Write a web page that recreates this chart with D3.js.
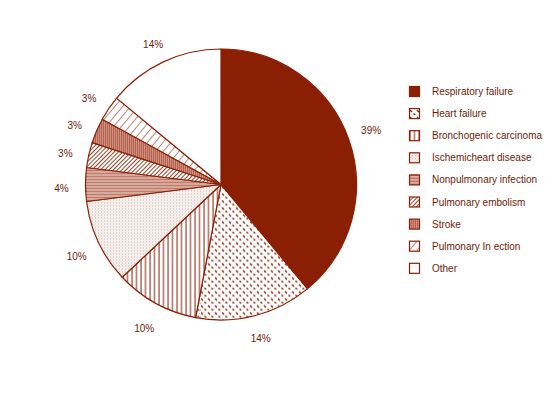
<!DOCTYPE html>
<meta charset="utf-8">
<script src="https://d3js.org/d3.v7.min.js"></script>
<style>
  body { margin: 0; background: #fff; }
  text { font-family: "Liberation Sans", Arial, sans-serif; fill: #6e1a08; }
</style>
<svg id="chart" width="555" height="396"></svg>
<script>
    // Causes of death, share in percent (clockwise from top)
    var categories = ["Respiratory failure", "Heart failure", "Bronchogenic carcinoma",
        "Ischemicheart disease", "Nonpulmonary infection", "Pulmonary embolism",
        "Stroke", "Pulmonary In ection", "Other"];
    var values = [39, 14, 10, 10, 4, 3, 3, 3, 14];
    var labels = ["39%", "14%", "10%", "10%", "4%", "3%", "3%", "3%", "14%"];
    var patterns = ["solid", "dash", "vline", "stipple", "hline", "diag", "dots", "diag2", "none"];

    var red = "#8b1f04";
    var svg = d3.select("#chart");
    var cx = 221, cy = 184.5, radius = 135.5;

    // patterns used for the slice fills
    var defs = svg.append("defs");

    var p = defs.append("pattern").attr("id", "dash").attr("patternUnits", "userSpaceOnUse")
        .attr("width", 7).attr("height", 7);
    p.append("rect").attr("width", 7).attr("height", 7).attr("fill", "#fff");
    p.append("line").attr("x1", 1).attr("y1", 2).attr("x2", 3).attr("y2", 4)
        .attr("stroke", red).attr("stroke-width", 1.4);
    p.append("line").attr("x1", 4.5).attr("y1", 5.5).attr("x2", 6.5).attr("y2", 7.5)
        .attr("stroke", red).attr("stroke-width", 1.4);

    p = defs.append("pattern").attr("id", "vline").attr("patternUnits", "userSpaceOnUse")
        .attr("width", 4.5).attr("height", 4);
    p.append("rect").attr("width", 4.5).attr("height", 4).attr("fill", "#fff");
    p.append("line").attr("x1", 1).attr("y1", 0).attr("x2", 1).attr("y2", 4)
        .attr("stroke", red).attr("stroke-width", 1);

    p = defs.append("pattern").attr("id", "stipple").attr("patternUnits", "userSpaceOnUse")
        .attr("width", 3).attr("height", 3);
    p.append("rect").attr("width", 3).attr("height", 3).attr("fill", "#f8f4f2");
    p.append("rect").attr("x", 0).attr("y", 0).attr("width", 1).attr("height", 1).attr("fill", "#c9b6ae");
    p.append("rect").attr("x", 1.5).attr("y", 1.5).attr("width", 1).attr("height", 1).attr("fill", "#d8c9c2");

    p = defs.append("pattern").attr("id", "hline").attr("patternUnits", "userSpaceOnUse")
        .attr("width", 4).attr("height", 3);
    p.append("rect").attr("width", 4).attr("height", 3).attr("fill", "#f0d6ce");
    p.append("line").attr("x1", 0).attr("y1", 1).attr("x2", 4).attr("y2", 1)
        .attr("stroke", red).attr("stroke-width", 1);

    p = defs.append("pattern").attr("id", "diag").attr("patternUnits", "userSpaceOnUse")
        .attr("width", 3).attr("height", 3).attr("patternTransform", "rotate(45)");
    p.append("rect").attr("width", 3).attr("height", 3).attr("fill", "#fff");
    p.append("line").attr("x1", 0).attr("y1", 0).attr("x2", 0).attr("y2", 3)
        .attr("stroke", red).attr("stroke-width", 1.7);

    p = defs.append("pattern").attr("id", "dots").attr("patternUnits", "userSpaceOnUse")
        .attr("width", 2).attr("height", 2);
    p.append("rect").attr("width", 2).attr("height", 2).attr("fill", "#cf9282");
    p.append("rect").attr("width", 1).attr("height", 1).attr("fill", "#973016");

    p = defs.append("pattern").attr("id", "diag2").attr("patternUnits", "userSpaceOnUse")
        .attr("width", 6).attr("height", 6).attr("patternTransform", "rotate(40)");
    p.append("rect").attr("width", 6).attr("height", 6).attr("fill", "#fff");
    p.append("line").attr("x1", 0).attr("y1", 0).attr("x2", 0).attr("y2", 6)
        .attr("stroke", red).attr("stroke-width", 1.1);

    function fillFor(name) {
        if (name == "solid") return red;
        if (name == "none") return "#fff";
        return "url(#" + name + ")";
    }

    var pie = d3.pie().sort(null).value(function(d) { return d; });
    var arcs = pie(values);
    var arc = d3.arc().innerRadius(0).outerRadius(radius);
    var labelArc = d3.arc().innerRadius(radius + 24).outerRadius(radius + 24);

    var g = svg.append("g").attr("transform", "translate(" + cx + "," + cy + ")");

    g.selectAll("path.slice")
        .data(arcs)
        .enter().append("path")
        .attr("class", "slice")
        .attr("d", arc)
        .attr("fill", function(d, i) { return fillFor(patterns[i]); })
        .attr("stroke", red)
        .attr("stroke-width", 1.2)
        .attr("stroke-linejoin", "round");

    // left-hand labels sit a little lower in the original
    g.selectAll("text.pct")
        .data(arcs)
        .enter().append("text")
        .attr("class", "pct")
        .attr("transform", function(d) {
            var c = labelArc.centroid(d);
            if (c[0] < 0) c[1] += 4;
            return "translate(" + c + ")";
        })
        .attr("text-anchor", "middle")
        .attr("dy", "0.35em")
        .attr("font-size", 10)
        .text(function(d, i) { return labels[i]; });

    // legend
    var legend = svg.append("g").attr("transform", "translate(409,86)");
    var row = legend.selectAll("g.row")
        .data(categories)
        .enter().append("g")
        .attr("class", "row")
        .attr("transform", function(d, i) { return "translate(0," + (i * 22.1) + ")"; });

    row.append("rect")
        .attr("x", 0.5).attr("y", 0.5)
        .attr("width", 10).attr("height", 10)
        .attr("fill", function(d, i) { return fillFor(patterns[i]); })
        .attr("stroke", red)
        .attr("stroke-width", 1.2);

    row.append("text")
        .attr("x", 23)
        .attr("y", 5.5)
        .attr("dy", "0.35em")
        .attr("font-size", 10)
        .text(function(d) { return d; });
</script>
